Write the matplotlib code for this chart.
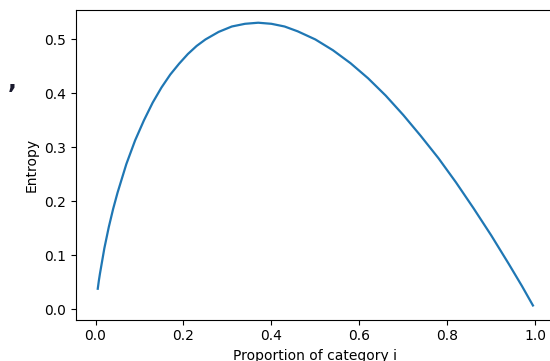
import matplotlib
matplotlib.use("Agg")
import matplotlib.pyplot as plt

# proportion of category i and entropy contribution
proportion = [0.005, 0.0075, 0.01, 0.02, 0.03, 0.04, 0.05, 0.07, 0.09, 0.11,
              0.13, 0.15, 0.17, 0.19, 0.21, 0.23, 0.25, 0.28, 0.31, 0.34,
              0.37, 0.40, 0.43, 0.46, 0.50, 0.54, 0.58, 0.62, 0.66, 0.70,
              0.74, 0.78, 0.82, 0.86, 0.90, 0.94, 0.97, 0.995]
entropy = [0.038, 0.053, 0.066, 0.113, 0.152, 0.186, 0.216, 0.269, 0.313, 0.350,
           0.383, 0.411, 0.435, 0.455, 0.473, 0.488, 0.500, 0.514, 0.524, 0.529,
           0.531, 0.529, 0.524, 0.515, 0.500, 0.480, 0.456, 0.428, 0.396, 0.360,
           0.321, 0.280, 0.235, 0.187, 0.137, 0.084, 0.043, 0.007]

W, H = 550, 361
fig = plt.figure(figsize=(W / 100, H / 100), dpi=100)
# axes run past the right edge, the original screenshot was cropped there
left, right, top, bottom = 76, 554.7, 9.5, 319.5
ax = fig.add_axes([left / W, 1 - bottom / H, (right - left) / W, (bottom - top) / H])

ax.plot(proportion, entropy, color='#1f77b4', linewidth=1.6)
ax.set_xlim(-0.0445, 1.0445)
ax.set_ylim(-0.019, 0.5555)
ax.set_xticks([0.0, 0.2, 0.4, 0.6, 0.8, 1.0])
ax.set_yticks([0.0, 0.1, 0.2, 0.3, 0.4, 0.5])
ax.tick_params(labelsize=10)
ax.set_xlabel('Proportion of category i', fontsize=10)
ax.set_ylabel('Entropy', fontsize=10)

# stray comma left over from the screenshot crop
fig.text(8 / W, 1 - 88 / H, ',', fontsize=17, fontweight='bold', color='#1a1a2e')

fig.savefig('out.png', dpi=100)
